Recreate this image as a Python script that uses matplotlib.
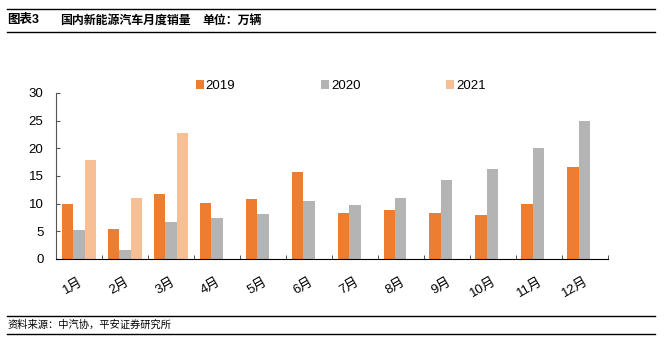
import numpy as np
import matplotlib.pyplot as plt
from matplotlib.lines import Line2D

plt.rcParams['font.family'] = ['Liberation Sans', 'Noto Sans CJK SC', 'DejaVu Sans']

months = ["1月", "2月", "3月", "4月", "5月", "6月", "7月", "8月", "9月", "10月", "11月", "12月"]
sales_2019 = [9.9, 5.5, 11.7, 10.1, 10.9, 15.7, 8.4, 8.9, 8.4, 8.0, 9.9, 16.7]
sales_2020 = [5.2, 1.7, 6.7, 7.4, 8.2, 10.4, 9.8, 11.0, 14.2, 16.2, 20.1, 24.9]
sales_2021 = [17.9, 11.0, 22.7]

c2019 = '#ED7D31'
c2020 = '#B4B4B4'
c2021 = '#F7BF96'

fig = plt.figure(figsize=(6.65, 3.45), dpi=100)
ax = fig.add_axes([0.0842, 0.2493, 0.8295, 0.4812])

x = np.arange(len(months))
w = 0.25
ax.bar(x - w, sales_2019, w, color=c2019, label='2019')
ax.bar(x, sales_2020, w, color=c2020, label='2020')
ax.bar(x[:len(sales_2021)] + w, sales_2021, w, color=c2021, label='2021')

ax.set_xlim(-0.5, len(months) - 0.5)
ax.set_ylim(0, 30)
ax.set_yticks(np.arange(0, 31, 5))
ax.tick_params(axis='y', direction='in', length=3, labelsize=9.5, pad=9, color='#555555')
ax.set_xticks(x)
ax.set_xticklabels(months, rotation=30, ha='right', rotation_mode='anchor', fontsize=9.5)
ax.tick_params(axis='x', length=0, pad=12)
# group boundary ticks
ax.set_xticks(np.arange(-0.5, len(months), 1), minor=True)
ax.tick_params(axis='x', which='minor', direction='in', length=3, color='#333333')

for s in ['top', 'right']:
    ax.spines[s].set_visible(False)
ax.spines['left'].set_color('#555555')
ax.spines['bottom'].set_color('black')

ax.legend(loc='center', bbox_to_anchor=(0.516, 1 + 7 / 166), ncol=3, frameon=False,
          fontsize=9.5, handlelength=0.6, handleheight=0.6, handletextpad=0.15,
          columnspacing=6.5, borderpad=0)

# header and footer lines
for yy in [1 - 9 / 345, 1 - 32 / 345, 1 - 316 / 345, 1 - 334 / 345]:
    fig.add_artist(Line2D([7 / 665, 655 / 665], [yy, yy], color='black', lw=1.0))

fig.text(7 / 665, 1 - 20.5 / 345, "图表3", fontsize=9, fontweight='bold', va='center')
fig.text(60 / 665, 1 - 20.5 / 345, "国内新能源汽车月度销量", fontsize=8.6,
         fontweight='bold', va='center')
fig.text(202 / 665, 1 - 20.5 / 345, "单位：万辆", fontsize=8.6,
         fontweight='bold', va='center')
fig.text(7 / 665, 1 - 325 / 345, "资料来源：中汽协，平安证券研究所", fontsize=7.4,
         style='italic', va='center')

fig.savefig('out.png', dpi=100)
